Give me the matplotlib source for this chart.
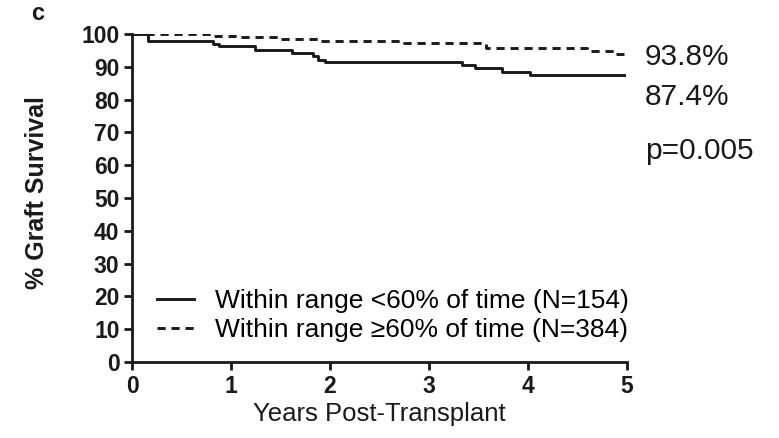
## import libraries ##
import matplotlib
matplotlib.use('Agg')
import matplotlib.pyplot as plt

plt.rcParams['font.family'] = ['Liberation Sans', 'DejaVu Sans']

## survival data (step curves) ##
years_low = [0, 0.16, 0.82, 0.88, 1.24, 1.62, 1.83, 1.88, 1.95, 3.34, 3.47, 3.74, 4.02, 4.97]
surv_low = [100, 98.0, 97.0, 96.2, 95.2, 94.2, 93.2, 92.2, 91.5, 90.5, 89.5, 88.5, 87.4, 87.4]

years_high = [0, 0.8, 1.1, 1.5, 1.9, 2.75, 3.58, 4.6, 4.85, 4.97]
surv_high = [100, 99.5, 99.2, 98.6, 98.0, 97.2, 95.8, 94.7, 93.8, 93.8]

label_low = 'Within range <60% of time (N=154)'
label_high = 'Within range \u226560% of time (N=384)'
final_labels = ['93.8%', '87.4%']
p_text = 'p=0.005'

ink = '#1a1a1a'

## set up figure ##
fig = plt.figure(figsize=(7.79, 4.38), dpi=100)
ax = fig.add_axes([0.1695, 0.1735, 0.635, 0.749])

ax.step(years_low, surv_low, where='post', color=ink, lw=2.1, label=label_low)
ax.step(years_high, surv_high, where='post', color=ink, lw=2.1,
        dashes=(2.8, 2.0), label=label_high)

ax.set_xlim(0, 5)
ax.set_ylim(0, 100)
ax.set_xticks(range(0, 6))
ax.set_yticks(range(0, 101, 10))
for s in ['top', 'right']:
    ax.spines[s].set_visible(False)
for s in ['left', 'bottom']:
    ax.spines[s].set_linewidth(2)
    ax.spines[s].set_color(ink)
ax.tick_params(width=2, length=6, color=ink, labelsize=16.5, pad=3)
for t in ax.get_xticklabels() + ax.get_yticklabels():
    t.set_fontweight('bold')
    t.set_color(ink)

ax.set_xlabel('Years Post-Transplant', fontsize=18.5, color=ink)
ax.xaxis.set_label_coords(0.5, -0.122)
ax.set_ylabel('% Graft Survival', fontsize=18, fontweight='bold', color=ink)
ax.yaxis.set_label_coords(-0.168, 0.515)

## end-of-curve values and p value ##
fig.text(645 / 779, 1 - 57 / 438, final_labels[0], fontsize=21.5, va='center', color=ink)
fig.text(645 / 779, 1 - 97 / 438, final_labels[1], fontsize=21.5, va='center', color=ink)
fig.text(645 / 779, 1 - 151 / 438, p_text, fontsize=21.5, va='center', color=ink)
fig.text(38 / 779, 1 - 13 / 438, 'c', fontsize=17, fontweight='bold',
         ha='center', va='center', color=ink)

ax.legend(loc='lower left', bbox_to_anchor=(0.05, 0.06), frameon=False, fontsize=19,
          handlelength=1.4, handletextpad=0.8, labelspacing=0.2, borderpad=0,
          borderaxespad=0)

plt.savefig('out.png', dpi=100)
